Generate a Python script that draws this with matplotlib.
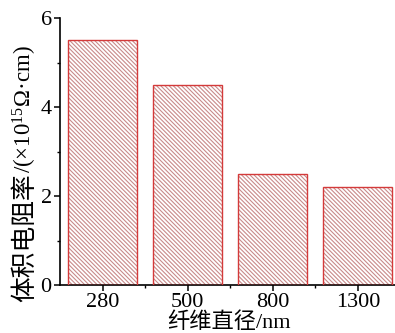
import matplotlib
matplotlib.use("Agg")
import matplotlib.pyplot as plt
from matplotlib.ticker import MultipleLocator, FixedLocator

# data
diameters = ["280", "500", "800", "1300"]
resistivity = [5.5, 4.5, 2.5, 2.2]

plt.rcParams['font.family'] = ['Liberation Serif', 'Noto Sans CJK SC']
plt.rcParams['mathtext.fontset'] = 'custom'
plt.rcParams['mathtext.rm'] = 'Liberation Serif'
plt.rcParams['mathtext.it'] = 'Liberation Serif:italic'
plt.rcParams['hatch.linewidth'] = 0.8

W, H = 395, 333
fig = plt.figure(figsize=(W / 100, H / 100), dpi=100)
# axes box in pixels: left spine x=60, y=0 at 285, y=6 at 18
ax = fig.add_axes([60 / W, 1 - 285 / H, 340.5 / W, 267 / H])

x = list(range(len(diameters)))
# hatched fill, then red outline on top
ax.bar(x, resistivity, width=0.81, color='white', edgecolor='#c88a8a',
       hatch='\\' * 8, linewidth=0, zorder=2)
ax.bar(x, resistivity, width=0.81, fill=False, edgecolor='#d43a3a',
       linewidth=1.0, zorder=3)

ax.set_xlim(-0.5, 3.5)
ax.set_ylim(0, 6)
ax.set_xticks(x)
ax.set_xticklabels(diameters)
ax.xaxis.set_minor_locator(FixedLocator([0.5, 1.5, 2.5]))
ax.yaxis.set_major_locator(MultipleLocator(2))
ax.yaxis.set_minor_locator(MultipleLocator(1))

for s in ['top', 'right']:
    ax.spines[s].set_visible(False)
for s in ['left', 'bottom']:
    ax.spines[s].set_linewidth(1.2)

ax.tick_params(which='major', direction='out', length=4, width=1.1,
               labelsize=16, pad=2)
ax.tick_params(which='minor', direction='out', length=2.5, width=1.0)

# y label: chinese part, then the unit with superscript above it
t1 = fig.text(25 / W, 1 - 302 / H, '体积电阻率', rotation=90, ha='center',
              va='bottom', fontsize=18.5, family=['Noto Sans CJK SC'])
ax.annotate(r'/(×10$^{15}$Ω·cm)', xy=(0.5, 1.0), xycoords=t1, rotation=90,
            ha='center', va='bottom', fontsize=16.5,
            family=['Liberation Serif'], annotation_clip=False)

fig.text(229 / W, 1 - 323 / H, '纤维直径/nm', ha='center', va='center',
         fontsize=16)

plt.savefig('out.png', dpi=100)
